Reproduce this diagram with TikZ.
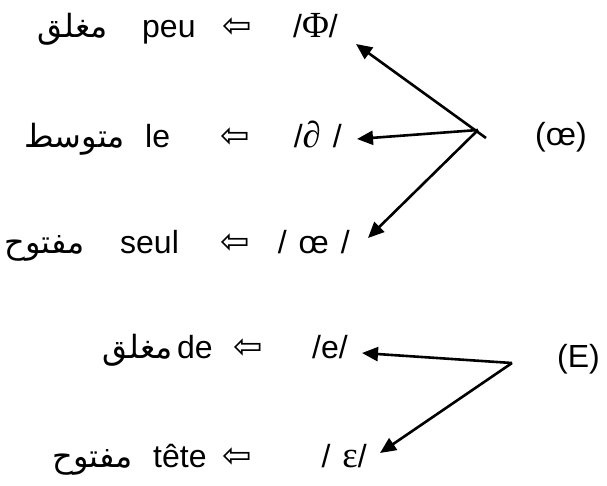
\documentclass[tikz,border=0pt]{standalone}
\usepackage{fontspec}
\setmainfont{Liberation Sans}
\newfontfamily\phonfont[Scale=1.15]{Liberation Serif}
\newfontfamily\symbfont[Scale=1.1]{DejaVu Sans}
\newfontfamily\arabicfont[Script=Arabic]{DejaVu Sans}
\TeXXeTstate=1
\usetikzlibrary{arrows.meta}
\newcommand\arword[1]{{\arabicfont\beginR #1\endR}}
\newcommand\whitearrow{{\symbfont ⇦}}
\tikzset{
  word/.style={inner sep=0pt, font=\fontsize{32}{38}\selectfont},
  arab/.style={word, anchor=base east},
  latin/.style={word, anchor=base west},
  phon/.style={word, anchor=base east},
  ptr/.style={line width=2.6pt, -{Triangle[length=16pt,width=14pt]}}
}
\begin{document}
\begin{tikzpicture}[x=1pt,y=-1pt]
\useasboundingbox (0,0) rectangle (607,485);

\node[arab] (ferme1) at (108,37) {\arword{مغلق}};
\node[latin] (peu) at (142,37) {peu};
\node[latin] (fl1) at (222,37) {\whitearrow};
\node[phon] (phi) at (338,37) {/{\phonfont Φ}/};

\node[arab] (moyen) at (125,147) {\arword{متوسط}};
\node[latin] (le) at (145,147) {le};
\node[latin] (fl2) at (220,147) {\whitearrow};
\node[phon] (schwa) at (342,147) {/{\phonfont\itshape ∂}\hspace{12pt}/};

\node[arab] (ouvert1) at (85,253) {\arword{مفتوح}};
\node[latin] (seul) at (120,253) {seul};
\node[latin] (fl3) at (220,253) {\whitearrow};
\node[phon] (oe) at (350,253) {/\hspace{12pt}œ\hspace{12pt}/};

\node[arab] (ferme2) at (173,358) {\arword{مغلق}};
\node[latin] (de) at (177,358) {de};
\node[latin] (fl4) at (233,358) {\whitearrow};
\node[phon] (e) at (348,358) {/e/};

\node[arab] (ouvert2) at (133,467) {\arword{مفتوح}};
\node[latin] (tete) at (153,467) {tête};
\node[latin] (fl5) at (222,467) {\whitearrow};
\node[phon] (epsilon) at (367,467) {/\hspace{12pt}{\phonfont ε}/};

\node[latin] (groupoe) at (535,145) {(œ)};
\node[latin] (groupE) at (557,367) {(E)};

\coordinate (tick) at (486,138);
\coordinate (j1) at (478,130);
\coordinate (j2) at (512,363);

\draw[ptr] (tick) -- ([shift={(18,7)}]phi.base east);
\draw[ptr] (j1) -- ([shift={(15,-8)}]schwa.base east);
\draw[ptr] (j1) -- ([shift={(18,-15)}]oe.base east);
\draw[ptr] (j2) -- ([shift={(14,-5)}]e.base east);
\draw[ptr] (j2) -- ([shift={(13,-14)}]epsilon.base east);
\end{tikzpicture}
\end{document}
